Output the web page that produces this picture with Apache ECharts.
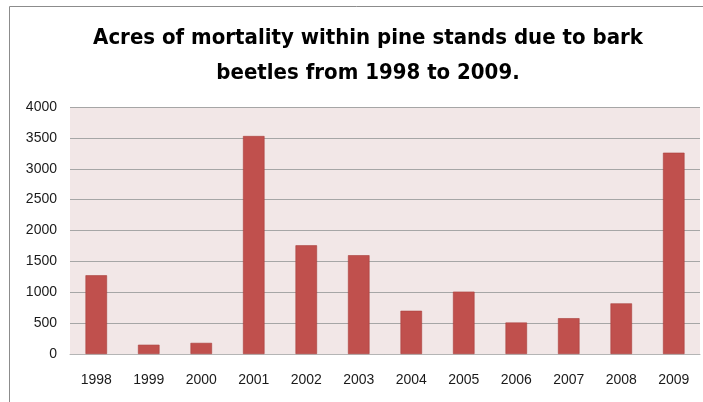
<!DOCTYPE html>
<html>
<head>
<meta charset="utf-8">
<script src="https://cdn.jsdelivr.net/npm/echarts@6/dist/echarts.min.js"></script>
<style>
  html, body { margin: 0; padding: 0; background: #ffffff; }
  #chart { width: 703px; height: 402px; }
</style>
</head>
<body>
<div id="chart"></div>
<script>
// Years on the category axis
const years = ['1998', '1999', '2000', '2001', '2002', '2003', '2004', '2005', '2006', '2007', '2008', '2009'];
// Acres of pine mortality from bark beetles, per year
const acres = [1275, 150, 180, 3530, 1760, 1600, 700, 1010, 510, 580, 820, 3260];
// Value axis range
const yMin = 0;
const yMax = 4000;
const yStep = 500;

const titleText = 'Acres of mortality within pine stands due to bark\nbeetles from 1998 to 2009.';
const titleFont = '"Liberation Sans Narrow", "DejaVu Sans Condensed", "Liberation Sans", sans-serif';
const labelFont = '"Liberation Sans", "DejaVu Sans", sans-serif';

const chart = echarts.init(document.getElementById('chart'), null, { renderer: 'canvas' });

chart.setOption({
  backgroundColor: '#ffffff',
  animation: false,
  title: {
    text: titleText,
    left: 363,
    top: 16,
    textAlign: 'center',
    textStyle: {
      fontFamily: titleFont,
      fontWeight: 'bold',
      fontSize: 22,
      lineHeight: 35,
      color: '#000000'
    }
  },
  graphic: [{
    // outer frame of the chart area
    type: 'rect',
    shape: { x: 9.5, y: 6.5, width: 720, height: 420 },
    style: { fill: 'none', stroke: '#8c8c8c', lineWidth: 1 },
    silent: true,
    z: -1
  }],
  grid: {
    left: 70,
    right: 3,
    top: 107,
    bottom: 48,
    show: true,
    backgroundColor: '#f2e7e7',
    borderWidth: 0
  },
  xAxis: {
    type: 'category',
    data: years,
    axisLine: { show: true, lineStyle: { color: '#b5b5b5', width: 1 } },
    axisTick: { show: false },
    axisLabel: {
      margin: 19,
      fontFamily: labelFont,
      fontSize: 14,
      color: '#1a1a1a'
    }
  },
  yAxis: {
    type: 'value',
    min: yMin,
    max: yMax,
    interval: yStep,
    axisLine: { show: false },
    axisTick: { show: false },
    axisLabel: {
      margin: 13,
      fontFamily: labelFont,
      fontSize: 14,
      color: '#1a1a1a',
      formatter: (v) => String(v)
    },
    splitLine: { show: true, lineStyle: { color: '#a6a6a6', width: 1 } }
  },
  series: [{
    type: 'bar',
    data: acres,
    barWidth: '41%',
    itemStyle: {
      color: '#c0504d',
      borderColor: '#a9403d',
      borderWidth: 0.6
    }
  }]
});
</script>
</body>
</html>
